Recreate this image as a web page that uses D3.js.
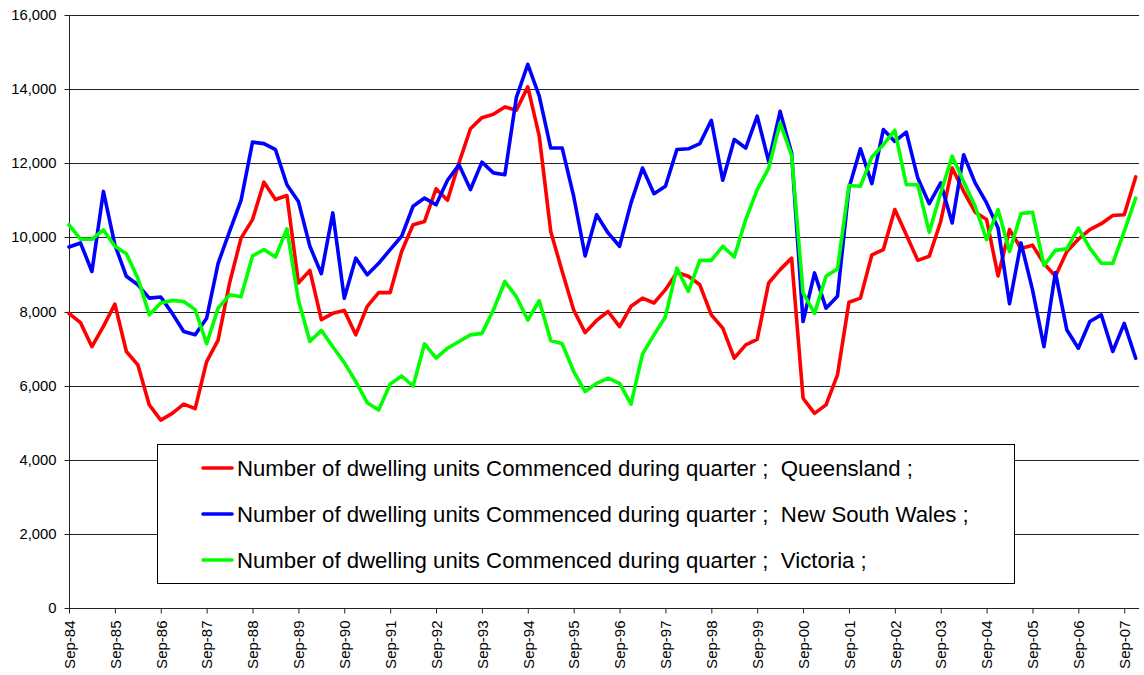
<!DOCTYPE html>
<html><head><meta charset="utf-8">
<script src="https://cdn.jsdelivr.net/npm/d3@7"></script>
<style>
body{margin:0;background:#fff;}
text{font-family:Arial,"Liberation Sans",sans-serif;}
</style></head>
<body><svg id="c" width="1144" height="675"></svg>
<script>
const months = ["Sep","Dec","Mar","Jun"];
const startYear = 84;
const nPoints = 94;
const categories = [];
for (let i = 0; i < nPoints; i++) {
  const m = months[i % 4];
  const yr = (startYear + Math.floor((i + 2) / 4)) % 100;
  categories.push(m + "-" + String(yr).padStart(2, "0") + "#" + i);
}
const tickLabels = ["Sep-84","Sep-85","Sep-86","Sep-87","Sep-88","Sep-89","Sep-90","Sep-91","Sep-92","Sep-93","Sep-94","Sep-95","Sep-96","Sep-97","Sep-98","Sep-99","Sep-00","Sep-01","Sep-02","Sep-03","Sep-04","Sep-05","Sep-06","Sep-07"];
const yTicks = [0,2000,4000,6000,8000,10000,12000,14000,16000];

const queensland = [7950,7700,7050,7600,8200,6920,6560,5480,5070,5250,5500,5380,6650,7230,8770,9980,
10480,11490,11020,11130,8770,9110,7780,7950,8030,7370,8140,8510,8510,9620,10340,10430,
11310,11000,12010,12930,13230,13320,13520,13430,14060,12730,10160,9080,8040,7430,7760,8000,
7590,8140,8360,8230,8590,9050,8950,8720,7910,7550,6740,7100,7250,8770,9130,9440,
5660,5250,5480,6290,8250,8360,9530,9670,10750,10070,9380,9490,10430,11870,11240,
10680,10480,8960,10210,9700,9790,9300,8950,9620,9950,10210,10370,10590,10610,11630];
const nsw = [9740,9850,9080,11240,9800,8950,8720,8360,8390,7950,7460,7370,7820,9300,10160,11000,
12570,12530,12370,11420,10970,9760,9020,10660,8360,9440,8990,9300,9670,10030,10840,11060,
10880,11540,11960,11290,12030,11740,11690,13770,14670,13810,12410,12410,11110,9500,10610,10120,
9760,10930,11870,11180,11380,12370,12390,12530,13160,11540,12640,12410,13270,12050,13400,12280,
7730,9040,8090,8410,11330,12390,11450,12910,12590,12840,11600,10910,11470,10390,12230,
11470,10930,10250,8210,9850,8590,7050,9050,7500,7010,7730,7910,6920,7680,6740];
const victoria = [10340,9950,9950,10200,9760,9560,8900,7910,8230,8300,8270,8050,7130,8090,8450,8400,
9500,9670,9470,10230,8310,7190,7490,7050,6620,6110,5540,5340,6040,6260,5990,7130,
6740,7010,7190,7370,7410,8040,8810,8400,7770,8290,7220,7130,6380,5840,6060,6200,
6060,5500,6850,7370,7860,9170,8540,9380,9380,9760,9470,10480,11290,11870,13090,12210,
8500,7950,8950,9150,11400,11380,12170,12500,12890,11420,11420,10140,11200,12190,11500,
10840,9940,10750,9620,10640,10680,9240,9650,9690,10250,9710,9300,9300,10160,11060];

const seriesNames = [
  "Number of dwelling units Commenced during quarter ;  Queensland ;",
  "Number of dwelling units Commenced during quarter ;  New South Wales ;",
  "Number of dwelling units Commenced during quarter ;  Victoria ;"
];
const seriesColors = ["#ff0000","#0000ff","#00ff00"];
const seriesData = [queensland, nsw, victoria];

const svg = d3.select("#c");
const pLeft = 69, pRight = 1135.7, pTop = 15, pBottom = 608;
const x = d3.scalePoint().domain(categories).range([pLeft, pRight]).padding(0);
const y = d3.scaleLinear().domain([0,16000]).range([pBottom, pTop]);
const tickCats = categories.filter((c,i)=>i%4===0);

// gridlines
svg.append("g").selectAll("line").data(yTicks.filter(d=>d>0)).join("line")
  .attr("x1", pLeft).attr("x2", 1139)
  .attr("y1", d=>Math.round(y(d))+0.5).attr("y2", d=>Math.round(y(d))+0.5)
  .attr("stroke", "#222").attr("stroke-width", 1);

// y axis
const yAxis = d3.axisLeft(y).tickValues(yTicks).tickFormat(d3.format(",")).tickSize(5).tickPadding(8);
const gy = svg.append("g").attr("transform", `translate(${pLeft+0.5},0)`).call(yAxis);
gy.select(".domain").attr("stroke","#222").attr("d", `M0,${pTop}V${pBottom}`);
gy.selectAll(".tick line").attr("stroke","#222");
gy.selectAll(".tick").attr("transform", d=>`translate(0,${Math.round(y(d))+0.5})`);
gy.selectAll("text").attr("font-size", 14.8).attr("fill","#000").attr("font-family","Arial, 'Liberation Sans', sans-serif");

// x axis
const xAxis = d3.axisBottom(x).tickValues(tickCats).tickFormat(c=>c.split("#")[0]).tickSize(5).tickPadding(4);
const gx = svg.append("g").attr("transform", `translate(0,${pBottom+0.5})`).call(xAxis);
gx.select(".domain").attr("stroke","#222").attr("d", `M${pLeft},0H1139`);
gx.selectAll(".tick line").attr("stroke","#222");
gx.selectAll("text").attr("font-size", 15).attr("fill","#000")
  .attr("font-family","Arial, 'Liberation Sans', sans-serif")
  .attr("transform","rotate(-90)").attr("text-anchor","end")
  .attr("x", -12).attr("y", 0).attr("dy","0.35em");

// lines
const line = d3.line().x((d,i)=>x(categories[i])).y(d=>y(d));
seriesData.forEach((s, k) => {
  svg.append("path").datum(s).attr("d", line)
    .attr("fill","none").attr("stroke", seriesColors[k])
    .attr("stroke-width", 3.6).attr("stroke-linejoin","round").attr("stroke-linecap","round");
});

// legend
const lg = svg.append("g");
lg.append("rect").attr("x", 157.5).attr("y", 444.5).attr("width", 857).attr("height", 139)
  .attr("fill","#fff").attr("stroke","#000").attr("stroke-width",1);
seriesNames.forEach((name, k) => {
  const yy = 468 + k*46;
  lg.append("line").attr("x1", 203).attr("x2", 232).attr("y1", yy).attr("y2", yy)
    .attr("stroke", seriesColors[k]).attr("stroke-width", 3.6).attr("stroke-linecap","round");
  lg.append("text").attr("x", 237).attr("y", yy).attr("dy","0.36em")
    .attr("font-size", 22.2).attr("fill","#000").style("white-space","pre").text(name);
});
</script></body></html>
